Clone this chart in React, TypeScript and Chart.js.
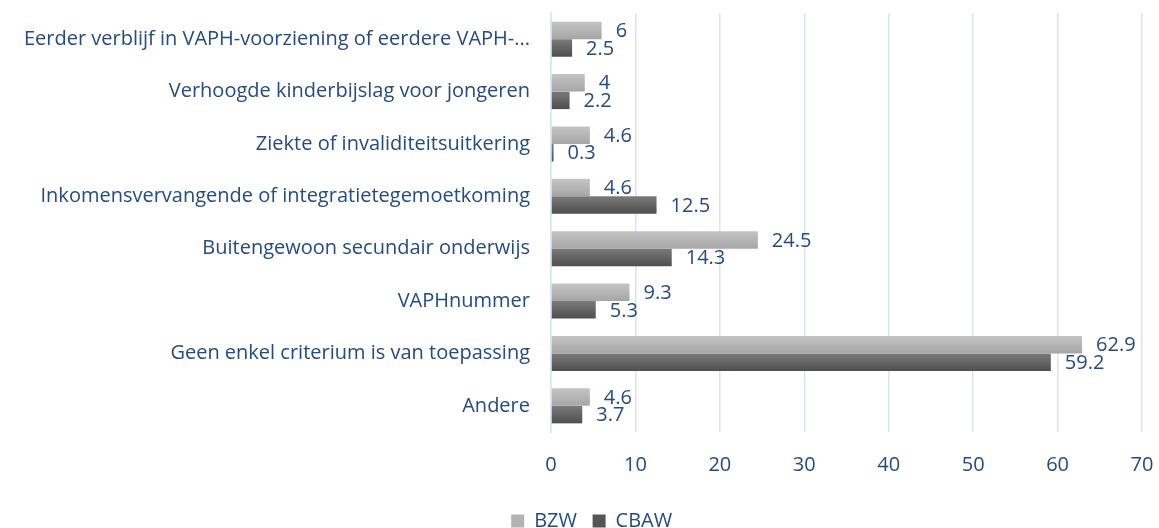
import React, { useEffect, useRef } from "react";
import { Chart, registerables } from "chart.js";

Chart.register(...registerables);

const categories = [
  "Eerder verblijf in VAPH-voorziening of eerdere VAPH-...",
  "Verhoogde kinderbijslag voor jongeren",
  "Ziekte of invaliditeitsuitkering",
  "Inkomensvervangende of integratietegemoetkoming",
  "Buitengewoon secundair onderwijs",
  "VAPHnummer",
  "Geen enkel criterium is van toepassing",
  "Andere",
];
const bzw = [6, 4, 4.6, 4.6, 24.5, 9.3, 62.9, 4.6];
const cbaw = [2.5, 2.2, 0.3, 12.5, 14.3, 5.3, 59.2, 3.7];
const xTicks = [0, 10, 20, 30, 40, 50, 60, 70];

const TEXT = "#264b7e";
const FONT = "'Open Sans', 'Liberation Sans', sans-serif";
const FS = 20;

const gradients: Record<number, [string, string]> = {
  0: ["#c4c4c4", "#a6a6a6"],
  1: ["#7a7a7a", "#4e4e4e"],
};

const gradientPlugin = {
  id: "barGradient",
  beforeDatasetsDraw(chart: any) {
    const ctx = chart.ctx;
    chart.data.datasets.forEach((_: any, di: number) => {
      const meta = chart.getDatasetMeta(di);
      meta.data.forEach((el: any) => {
        const h = el.height;
        const top = el.y - h / 2;
        const g = ctx.createLinearGradient(0, top, 0, top + h);
        g.addColorStop(0, gradients[di][0]);
        g.addColorStop(1, gradients[di][1]);
        el.options.backgroundColor = g;
      });
    });
  },
};

const labelPlugin = {
  id: "valueLabels",
  afterDatasetsDraw(chart: any) {
    const ctx = chart.ctx;
    ctx.save();
    ctx.font = `${FS}px ${FONT}`;
    ctx.fillStyle = TEXT;
    ctx.textAlign = "left";
    ctx.textBaseline = "middle";
    chart.data.datasets.forEach((ds: any, di: number) => {
      const meta = chart.getDatasetMeta(di);
      meta.data.forEach((el: any, i: number) => {
        ctx.fillText(String(ds.data[i]), el.x + 14, el.y + 1);
      });
    });
    ctx.restore();
  },
};

const legendShift = {
  id: "legendShift",
  afterLayout(chart: any) {
    const lg = chart.legend;
    if (!lg) return;
    const dy = 521 - (lg.top + FS / 2);
    lg.top += dy;
    lg.bottom += dy;
    lg.left += 20;
    lg.right += 20;
  },
};

export default function App() {
  const ref = useRef<HTMLCanvasElement | null>(null);
  useEffect(() => {
    if (!ref.current) return;
    const chart = new Chart(ref.current, {
      type: "bar",
      data: {
        labels: categories,
        datasets: [
          {
            label: "BZW",
            data: bzw,
            backgroundColor: () => "#b3b3b3",
            categoryPercentage: 0.67,
            barPercentage: 1,
          },
          {
            label: "CBAW",
            data: cbaw,
            backgroundColor: () => "#606060",
            categoryPercentage: 0.67,
            barPercentage: 1,
          },
        ],
      },
      options: {
        indexAxis: "y",
        animation: false,
        responsive: true,
        maintainAspectRatio: false,
        layout: { padding: 0 },
        scales: {
          x: {
            min: 0,
            max: 70,
            afterBuildTicks: (s: any) => {
              s.ticks = xTicks.map((v) => ({ value: v }));
            },
            afterFit: (s: any) => {
              s.paddingLeft = 0;
              s.paddingRight = 17;
            },
            grid: { color: "#d9e3f3", lineWidth: 1.5, drawTicks: false },
            border: { display: false },
            ticks: {
              color: TEXT,
              font: { family: FONT, size: FS },
              padding: 21,
            },
          },
          y: {
            afterFit: (s: any) => {
              s.width = 551;
              s.paddingTop = 13;
              s.paddingBottom = 0;
            },
            grid: { display: false, drawTicks: false },
            border: { display: true, color: "#d9e3f3", width: 1.5 },
            ticks: {
              color: TEXT,
              font: { family: FONT, size: FS },
              padding: 21,
            },
          },
        },
        plugins: {
          legend: {
            position: "bottom",
            labels: {
              color: TEXT,
              font: { family: FONT, size: FS },
              usePointStyle: true,
              pointStyle: "rect",
              boxWidth: 13,
              boxHeight: 13,
              padding: 0,
              generateLabels: (c: any) =>
                c.data.datasets.map((ds: any, i: number) => ({
                  text: ds.label + "   ",
                  fillStyle: i === 0 ? "#b3b3b3" : "#555555",
                  strokeStyle: i === 0 ? "#b3b3b3" : "#555555",
                  lineWidth: 0,
                  pointStyle: "rect",
                  fontColor: TEXT,
                  datasetIndex: i,
                })),
            },
          },
          tooltip: { enabled: false },
        },
      },
      plugins: [gradientPlugin, labelPlugin, legendShift],
    });
    return () => chart.destroy();
  }, []);
  return (
    <div style={{ position: "fixed", left: 0, top: 0, width: 1159, height: 528 }}>
      <canvas ref={ref} />
    </div>
  );
}
